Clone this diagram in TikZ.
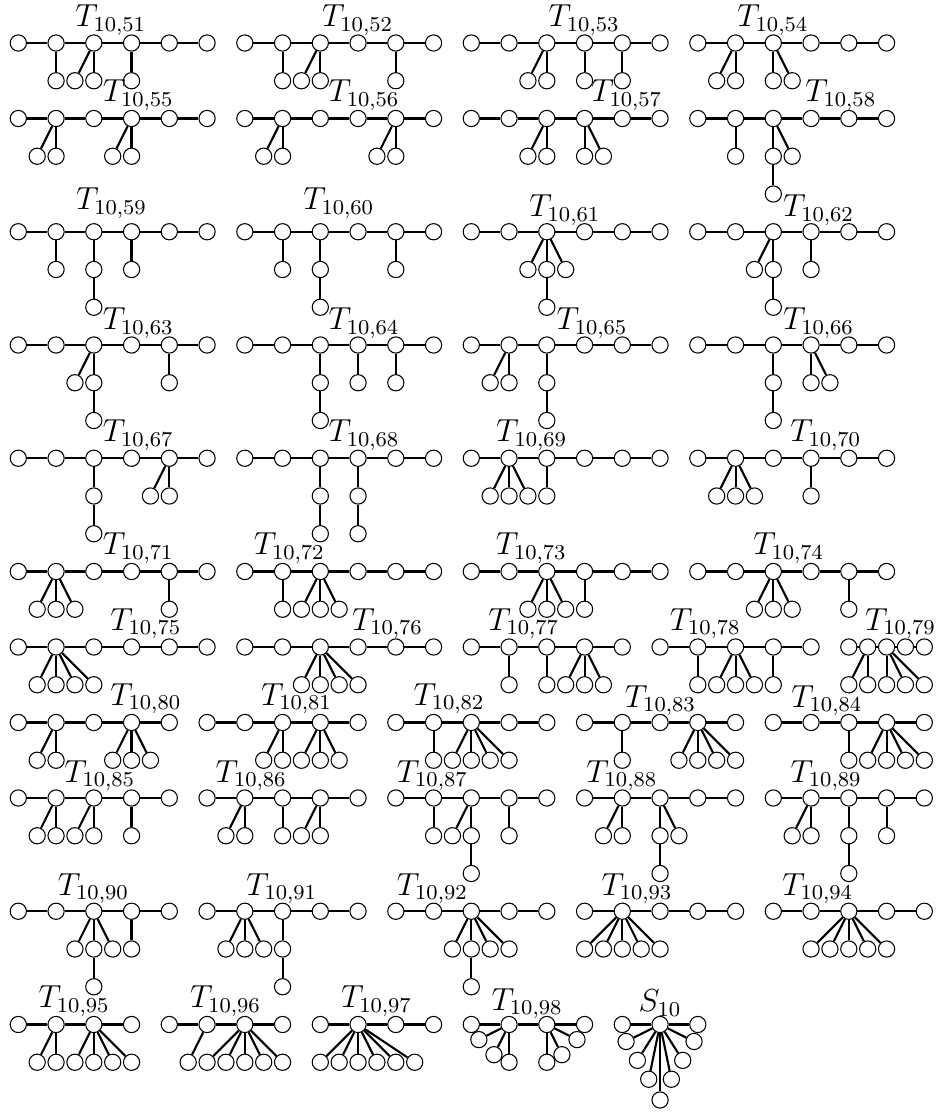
\documentclass[tikz,border=0pt]{standalone}

% Draw one tree: #1 name, #2 origin, #3 list macro of spine x offsets,
% #4 pendant vertices (id/dx/dy/parent), #5 label, #6 label position
\newcommand{\drawTree}[6]{%
  \begin{scope}[shift={(#2)}]
    % Spine vertices
    \foreach \px [count=\k from 0] in #3
      \node[vertexNode] (#1-\k) at (\px,0) {};
    % Pendant vertices
    \foreach \pid/\ox/\oy/\up in {#4}
      \node[vertexNode] (#1-\pid) at (\ox,\oy) {};
    % Spine edges
    \foreach \px [count=\k from 0, remember=\k as \lastK (initially 0)] in #3
      {\ifnum\k>0 \draw[edgeLine] (#1-\lastK) -- (#1-\k);\fi}
    % Pendant edges
    \foreach \pid/\ox/\oy/\up in {#4}
      \draw[edgeLine] (#1-\up) -- (#1-\pid);
  \end{scope}
  \node[treeLabel] (#1-lab) at (#6) {#5};
}

\begin{document}
\begin{tikzpicture}[x=0.5cm, y=0.5cm,
    vertexNode/.style={circle, draw, fill=white, inner sep=0pt, minimum size=0.215cm},
    edgeLine/.style={line width=0.8pt},
    treeLabel/.style={anchor=base, inner sep=0pt, font=\large}]

    % Fix the page size
    \useasboundingbox (-0.485,1.139) rectangle (24.363,-28.318);

    % Spine shapes
    \def\sixSpine{0,1,2,3,4,5}
    \def\fiveSpine{0,1,2,3,4}
    \def\fourSpine{0,1,2,3}
    \def\threeSpine{0,1,2}
    \def\halfSpine{0,0.5,1,1.5,2}

    % Row 1
    \drawTree{t51}{0,0}{\sixSpine}{a/1/-1/1, b/1.5/-1/2, c/2/-1/2, d/3/-1/3}{$T_{10,51}$}{2.45,0.43}
    \drawTree{t52}{6,0}{\sixSpine}{a/1/-1/1, b/1.5/-1/2, c/2/-1/2, d/4/-1/4}{$T_{10,52}$}{8.99,0.43}
    \drawTree{t53}{12,0}{\sixSpine}{a/1.5/-1/2, b/2/-1/2, c/3/-1/3, d/4/-1/4}{$T_{10,53}$}{14.99,0.43}
    \drawTree{t54}{18,0}{\sixSpine}{a/0.5/-1/1, b/1/-1/1, c/2/-1/2, d/2.5/-1/2}{$T_{10,54}$}{19.99,0.43}

    % Row 2
    \drawTree{t55}{0,-2}{\sixSpine}{a/0.5/-1/1, b/1/-1/1, c/2.5/-1/3, d/3/-1/3}{$T_{10,55}$}{3.18,-1.555}
    \drawTree{t56}{6,-2}{\sixSpine}{a/0.5/-1/1, b/1/-1/1, c/3.5/-1/4, d/4/-1/4}{$T_{10,56}$}{9.16,-1.555}
    \drawTree{t57}{12,-2}{\sixSpine}{a/1.5/-1/2, b/2/-1/2, c/3/-1/3, d/3.5/-1/3}{$T_{10,57}$}{16.12,-1.555}
    \drawTree{t58}{18,-2}{\sixSpine}{a/1/-1/1, b/2/-1/2, c/2.5/-1/2, d/2/-2/b}{$T_{10,58}$}{21.79,-1.555}

    % Row 3
    \drawTree{t59}{0,-5}{\sixSpine}{a/1/-1/1, b/2/-1/2, c/2/-2/b, d/3/-1/3}{$T_{10,59}$}{2.47,-4.42}
    \drawTree{t60}{6,-5}{\sixSpine}{a/1/-1/1, b/2/-1/2, c/2/-2/b, d/4/-1/4}{$T_{10,60}$}{8.49,-4.42}
    \drawTree{t61}{12,-5}{\sixSpine}{a/1.5/-1/2, b/2/-1/2, c/2.5/-1/2, d/2/-2/b}{$T_{10,61}$}{14.48,-4.6}
    \drawTree{t62}{18,-5}{\sixSpine}{a/1.5/-1/2, b/2/-1/2, c/2/-2/b, d/3/-1/3}{$T_{10,62}$}{21.2,-4.6}

    % Row 4
    \drawTree{t63}{0,-8}{\sixSpine}{a/1.5/-1/2, b/2/-1/2, c/2/-2/b, d/4/-1/4}{$T_{10,63}$}{3.18,-7.6}
    \drawTree{t64}{6,-8}{\sixSpine}{a/2/-1/2, b/2/-2/a, c/3/-1/3, d/4/-1/4}{$T_{10,64}$}{9.16,-7.6}
    \drawTree{t65}{12,-8}{\sixSpine}{a/0.5/-1/1, b/1/-1/1, c/2/-1/2, d/2/-2/c}{$T_{10,65}$}{15.2,-7.6}
    \drawTree{t66}{18,-8}{\sixSpine}{a/2/-1/2, b/2/-2/a, c/3/-1/3, d/3.5/-1/3}{$T_{10,66}$}{21.2,-7.6}

    % Row 5
    \drawTree{t67}{0,-11}{\sixSpine}{a/2/-1/2, b/2/-2/a, c/3.5/-1/4, d/4/-1/4}{$T_{10,67}$}{3.18,-10.56}
    \drawTree{t68}{6,-11}{\sixSpine}{a/2/-1/2, b/2/-2/a, c/3/-1/3, d/3/-2/c}{$T_{10,68}$}{9.16,-10.56}
    \drawTree{t69}{12,-11}{\sixSpine}{a/0.5/-1/1, b/1/-1/1, c/1.5/-1/1, d/2/-1/2}{$T_{10,69}$}{13.6,-10.56}
    \drawTree{t70}{18,-11}{\sixSpine}{a/0.5/-1/1, b/1/-1/1, c/1.5/-1/1, d/3/-1/3}{$T_{10,70}$}{21.39,-10.56}

    % Row 6
    \drawTree{t71}{0,-14}{\sixSpine}{a/0.5/-1/1, b/1/-1/1, c/1.5/-1/1, d/4/-1/4}{$T_{10,71}$}{3.18,-13.56}
    \drawTree{t72}{6,-14}{\sixSpine}{a/1/-1/1, b/1.5/-1/2, c/2/-1/2, d/2.5/-1/2}{$T_{10,72}$}{7.18,-13.56}
    \drawTree{t73}{12,-14}{\sixSpine}{a/1.5/-1/2, b/2/-1/2, c/2.5/-1/2, d/3/-1/3}{$T_{10,73}$}{13.59,-13.56}
    \drawTree{t74}{18,-14}{\sixSpine}{a/1.5/-1/2, b/2/-1/2, c/2.5/-1/2, d/4/-1/4}{$T_{10,74}$}{20.41,-13.56}

    % Row 7
    \drawTree{t75}{0,-16}{\sixSpine}{a/0.5/-1/1, b/1/-1/1, c/1.5/-1/1, d/2/-1/1}{$T_{10,75}$}{3.38,-15.55}
    \drawTree{t76}{6,-16}{\sixSpine}{a/1.5/-1/2, b/2/-1/2, c/2.5/-1/2, d/3/-1/2}{$T_{10,76}$}{9.78,-15.55}
    \drawTree{t77}{12,-16}{\fiveSpine}{a/1/-1/1, b/2/-1/2, c/2.5/-1/3, d/3/-1/3, e/3.5/-1/3}{$T_{10,77}$}{13.39,-15.55}
    \drawTree{t78}{17,-16}{\fiveSpine}{a/1/-1/1, b/1.5/-1/2, c/2/-1/2, d/2.5/-1/2, e/3/-1/3}{$T_{10,78}$}{18.2,-15.55}
    \drawTree{t79}{22,-16}{\halfSpine}{a/0/-1/1, b/0.5/-1/1, c/1/-1/2, d/1.5/-1/2, e/2/-1/2}{$T_{10,79}$}{23.37,-15.55}

    % Row 8
    \drawTree{t80}{0,-18}{\fiveSpine}{a/0.5/-1/1, b/1/-1/1, c/2.5/-1/3, d/3/-1/3, e/3.5/-1/3}{$T_{10,80}$}{3.38,-17.54}
    \drawTree{t81}{5,-18}{\fiveSpine}{a/1.5/-1/2, b/2/-1/2, c/2.5/-1/3, d/3/-1/3, e/3.5/-1/3}{$T_{10,81}$}{7.37,-17.54}
    \drawTree{t82}{10,-18}{\fiveSpine}{a/1/-1/1, b/1.5/-1/2, c/2/-1/2, d/2.5/-1/2, e/3/-1/2}{$T_{10,82}$}{11.41,-17.54}
    \drawTree{t83}{15,-18}{\fiveSpine}{a/1/-1/1, b/2.5/-1/3, c/3/-1/3, d/3.5/-1/3, e/4/-1/3}{$T_{10,83}$}{17.01,-17.59}
    \drawTree{t84}{20,-18}{\fiveSpine}{a/2/-1/2, b/2.5/-1/3, c/3/-1/3, d/3.5/-1/3, e/4/-1/3}{$T_{10,84}$}{21.42,-17.59}

    % Row 9
    \drawTree{t85}{0,-20}{\fiveSpine}{a/0.5/-1/1, b/1/-1/1, c/1.5/-1/2, d/2/-1/2, e/3/-1/3}{$T_{10,85}$}{2.16,-19.58}
    \drawTree{t86}{5,-20}{\fiveSpine}{a/0.5/-1/1, b/1/-1/1, c/2/-1/2, d/2.5/-1/3, e/3/-1/3}{$T_{10,86}$}{6.17,-19.58}
    \drawTree{t87}{10,-20}{\fiveSpine}{a/1/-1/1, b/1.5/-1/2, c/2/-1/2, d/2/-2/c, e/3/-1/3}{$T_{10,87}$}{10.97,-19.58}
    \drawTree{t88}{15,-20}{\fiveSpine}{a/0.5/-1/1, b/1/-1/1, c/2/-1/2, d/2/-2/c, e/2.5/-1/2}{$T_{10,88}$}{15.99,-19.58}
    \drawTree{t89}{20,-20}{\fiveSpine}{a/0.5/-1/1, b/1/-1/1, c/2/-1/2, d/2/-2/c, e/3/-1/3}{$T_{10,89}$}{21.4,-19.58}

    % Row 10
    \drawTree{t90}{0,-23}{\fiveSpine}{a/1.5/-1/2, b/2/-1/2, c/2.5/-1/2, d/2/-2/b, e/3/-1/3}{$T_{10,90}$}{1.99,-22.57}
    \drawTree{t91}{5,-23}{\fiveSpine}{a/0.5/-1/1, b/1/-1/1, c/1.5/-1/1, d/2/-1/2, e/2/-2/d}{$T_{10,91}$}{6.98,-22.57}
    \drawTree{t92}{10,-23}{\fiveSpine}{a/1.5/-1/2, b/2/-1/2, c/2.5/-1/2, d/3/-1/2, e/2/-2/b}{$T_{10,92}$}{10.97,-22.57}
    \drawTree{t93}{15,-23}{\fiveSpine}{a/0/-1/1, b/0.5/-1/1, c/1/-1/1, d/1.5/-1/1, e/2/-1/1}{$T_{10,93}$}{16.39,-22.57}
    \drawTree{t94}{20,-23}{\fiveSpine}{a/1/-1/2, b/1.5/-1/2, c/2/-1/2, d/2.5/-1/2, e/3/-1/2}{$T_{10,94}$}{21.18,-22.57}

    % Row 11
    \drawTree{t95}{0,-26}{\fourSpine}{a/0.5/-1/1, b/1/-1/1, c/1.5/-1/2, d/2/-1/2, e/2.5/-1/2, f/3/-1/2}{$T_{10,95}$}{1.48,-25.56}
    \drawTree{t96}{4,-26}{\fourSpine}{a/0.5/-1/1, b/1/-1/2, c/1.5/-1/2, d/2/-1/2, e/2.5/-1/2, f/3/-1/2}{$T_{10,96}$}{5.49,-25.56}
    \drawTree{t97}{8,-26}{\fourSpine}{a/0/-1/1, b/0.5/-1/1, c/1/-1/1, d/1.5/-1/1, e/2/-1/1, f/2.5/-1/1}{$T_{10,97}$}{9.49,-25.56}
    \drawTree{t98}{12,-26}{\fourSpine}{a/0.2/-0.4/1, b/0.6/-0.8/1, c/1/-1/1, d/2/-1/2, e/2.4/-0.8/2, f/2.8/-0.4/2}{$T_{10,98}$}{13.48,-25.62}
    \drawTree{s10}{16,-26}{\threeSpine}{a/0.1/-0.45/1, b/0.4/-0.95/1, c/0.7/-1.45/1, d/1/-2/1, e/1.3/-1.45/1, f/1.6/-0.95/1, g/1.9/-0.45/1}{$S_{10}$}{17,-25.66}

\end{tikzpicture}
\end{document}
